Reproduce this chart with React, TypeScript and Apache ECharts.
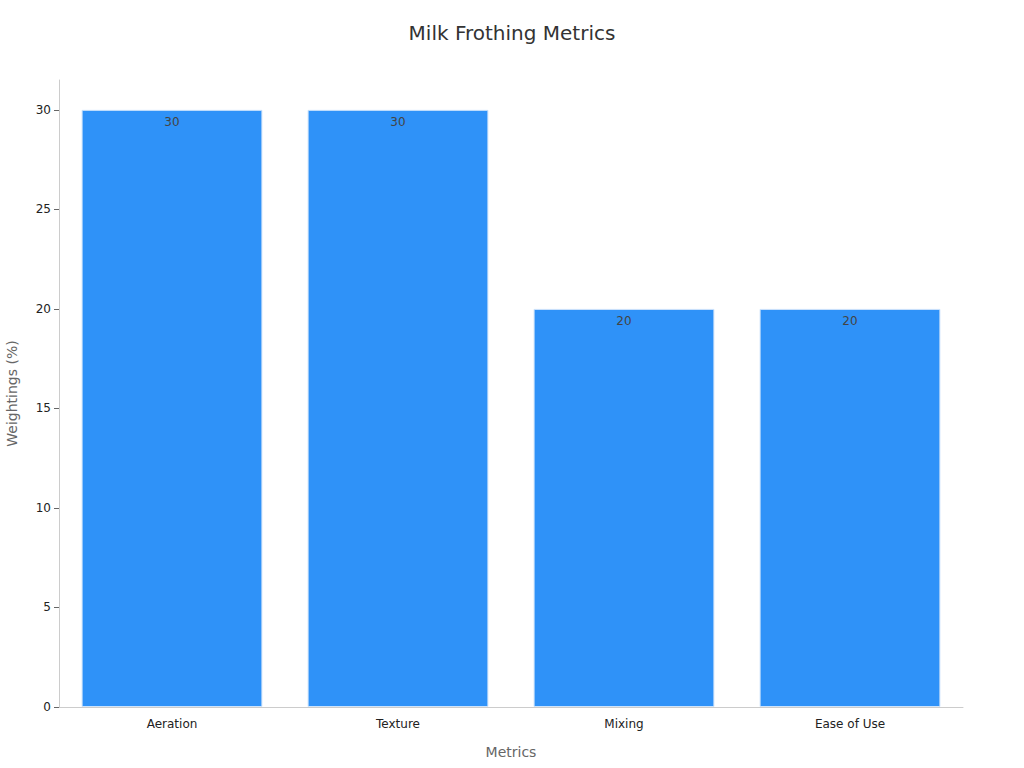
import React, { useEffect, useRef } from "react";
import * as echarts from "echarts";

const categories = ["Aeration", "Texture", "Mixing", "Ease of Use"];
const weightings = [30, 30, 20, 20];
const yTicks = [0, 5, 10, 15, 20, 25, 30];

export default function App() {
  const ref = useRef<HTMLDivElement>(null);
  useEffect(() => {
    if (!ref.current) return;
    const chart = echarts.init(ref.current, null, { renderer: "svg" });
    chart.setOption({
      animation: false,
      textStyle: { fontFamily: "DejaVu Sans" },
      title: {
        text: "Milk Frothing Metrics",
        left: "center",
        top: 18,
        textStyle: { fontSize: 20, fontWeight: "normal", color: "#333", fontFamily: "DejaVu Sans" },
      },
      grid: { left: 59, right: 61, top: 80, bottom: 61, containLabel: false, outerBoundsMode: "none" },
      xAxis: {
        type: "category",
        data: categories,
        name: "Metrics",
        nameLocation: "middle",
        nameGap: 38,
        nameTextStyle: { fontSize: 14, color: "#666" },
        axisLine: { lineStyle: { color: "#ccc" } },
        axisTick: { alignWithLabel: true, lineStyle: { color: "#999" } },
        axisLabel: { fontSize: 12, color: "#222", margin: 11 },
      },
      yAxis: {
        type: "value",
        min: 0,
        max: 31.5,
        name: "Weightings (%)",
        nameLocation: "middle",
        nameGap: 40,
        nameTextStyle: { fontSize: 14, color: "#666" },
        axisLine: { show: true, lineStyle: { color: "#ccc" } },
        axisTick: { show: true, customValues: yTicks, lineStyle: { color: "#666" } },
        axisLabel: { customValues: yTicks, fontSize: 12, color: "#222", margin: 8 },
        splitLine: { show: false },
      },
      series: [
        {
          type: "bar",
          data: weightings,
          barWidth: "80%",
          itemStyle: { color: "#2f92f8", borderColor: "#cfe4fb", borderWidth: 1 },
          label: {
            show: true,
            position: "insideTop",
            distance: 6,
            fontSize: 12,
            color: "#444",
          },
        },
      ],
    });
    return () => chart.dispose();
  }, []);
  return (
    <div
      ref={ref}
      style={{ position: "absolute", left: 0, top: 0, width: 1024, height: 768 }}
    />
  );
}
